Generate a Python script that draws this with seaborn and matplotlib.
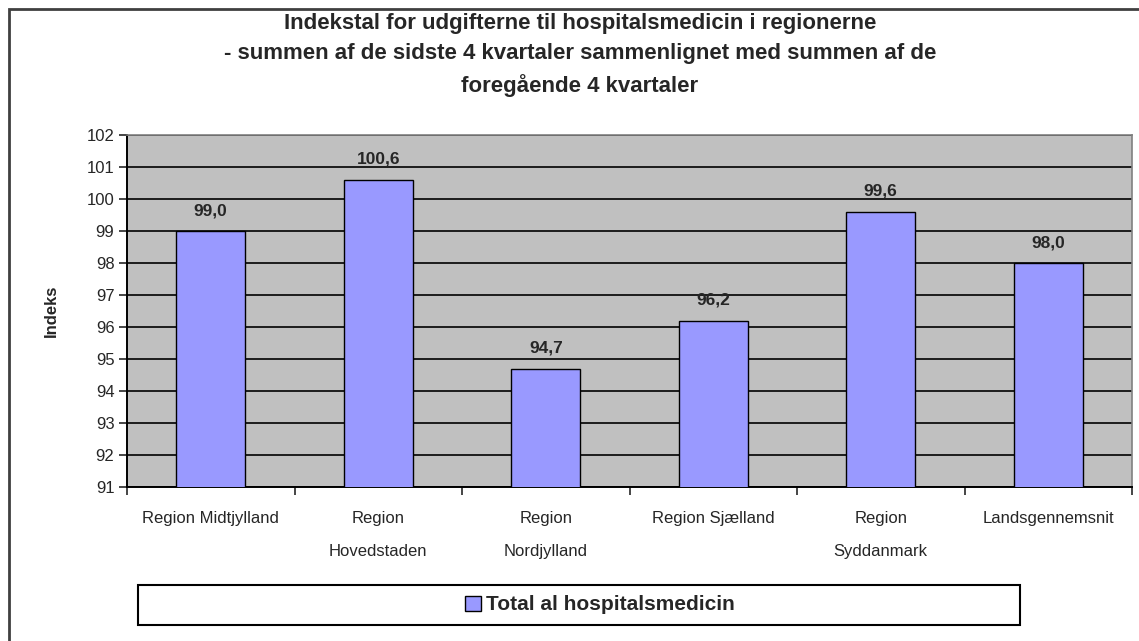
import matplotlib
matplotlib.use("Agg")
import matplotlib.pyplot as plt
from matplotlib.patches import Rectangle, Patch
from matplotlib import font_manager
import seaborn as sns
import pandas as pd

categories = ["Region Midtjylland", "Region\nHovedstaden", "Region\nNordjylland",
              "Region Sjælland", "Region\nSyddanmark", "Landsgennemsnit"]
values = [99.0, 100.6, 94.7, 96.2, 99.6, 98.0]
value_labels = ["99,0", "100,6", "94,7", "96,2", "99,6", "98,0"]
series_name = "Total al hospitalsmedicin"
yticks = list(range(91, 103))
title = ("Indekstal for udgifterne til hospitalsmedicin i regionerne\n"
         "- summen af de sidste 4 kvartaler sammenlignet med summen af de\n"
         "foregående 4 kvartaler")
ylabel = "Indeks"

sns.set_style("white")
plt.rcParams['font.family'] = ['Liberation Sans', 'DejaVu Sans']

installed = {f.name for f in font_manager.fontManager.ttflist}
narrow = "Liberation Sans Narrow" in installed
bold_family = (['Liberation Sans Narrow', 'DejaVu Sans'] if narrow
               else ['Liberation Sans', 'DejaVu Sans'])
title_size = 18 if narrow else 16
legend_size = 17 if narrow else 15
value_size = 14 if narrow else 12.5

W, H = 1139, 641
fig = plt.figure(figsize=(W / 100, H / 100), dpi=100)
fig.patch.set_facecolor("white")

# outer frame
fig.add_artist(Rectangle((9 / W, -0.05), 1.2, 1 - 9 / H + 0.05, transform=fig.transFigure,
                         fill=False, edgecolor="#404040", linewidth=2))

ax = fig.add_axes([127 / W, 1 - 487 / H, (1132 - 127) / W, (487 - 135) / H])
ax.set_facecolor("#C0C0C0")

df = pd.DataFrame({"cat": categories, "val": values})
sns.barplot(data=df, x="cat", y="val", color="#9999FF", saturation=1, width=0.41,
            edgecolor="black", linewidth=1, ax=ax, zorder=3)

ax.set_ylim(91, 102)
ax.set_xlim(-0.5, len(categories) - 0.5)
ax.set_yticks(yticks)
ax.set_yticklabels([str(t) for t in yticks], fontsize=12)
ax.yaxis.grid(True, color="black", linewidth=1.2, zorder=0)
ax.set_axisbelow(True)

ax.set_xticks(range(len(categories)))
ax.set_xticklabels(categories, fontsize=12, linespacing=2.5)
ax.tick_params(axis="x", length=0, pad=17)
ax.tick_params(axis="y", length=6, direction="out", left=True, width=1.2, pad=3)
ax.set_xticks([i - 0.5 for i in range(len(categories) + 1)], minor=True)
ax.tick_params(axis="x", which="minor", length=6, direction="out", bottom=True, width=1.2)

for s in ["left", "bottom"]:
    ax.spines[s].set_color("black")
    ax.spines[s].set_linewidth(1.4)
for s in ["top", "right"]:
    ax.spines[s].set_color("#808080")
    ax.spines[s].set_linewidth(1.2)

for i, (v, lab) in enumerate(zip(values, value_labels)):
    ax.text(i, v + 0.4, lab, ha="center", va="bottom", fontsize=value_size,
            fontweight="bold", family=bold_family, zorder=5)

ax.set_xlabel("")
ax.set_ylabel(ylabel, fontsize=12, fontweight="bold", labelpad=20)

fig.text(580 / W, 1 - 13 / H, title, ha="center", va="top", fontsize=title_size,
         fontweight="bold", linespacing=1.55, family=bold_family)

# legend box
fig.add_artist(Rectangle((138 / W, 1 - 625 / H), (1020 - 138) / W, 40 / H,
                         transform=fig.transFigure, fill=True, facecolor="white",
                         edgecolor="black", linewidth=1.5))
handle = Patch(facecolor="#9999FF", edgecolor="black", linewidth=1)
fig.legend([handle], [series_name], loc="center", bbox_to_anchor=(600 / W, 1 - 605 / H),
           frameon=False, handlelength=0.75, handleheight=0.75, handletextpad=0.25,
           prop={"size": legend_size, "weight": "bold", "family": bold_family})

fig.savefig("out.png", dpi=100)
